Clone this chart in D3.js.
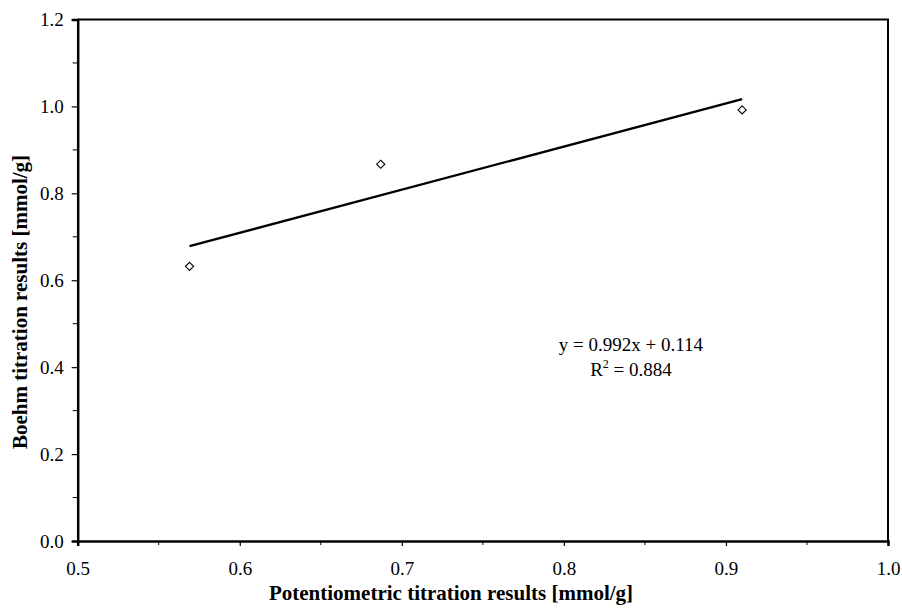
<!DOCTYPE html>
<html>
<head>
<meta charset="utf-8">
<style>
  body { margin: 0; background: #fff; }
  svg { display: block; font-family: "Liberation Serif", "Times New Roman", serif; }
  .axis path, .axis line { stroke: #000; }
  .title { font-size: 21px; font-weight: bold; }
  .eq { font-size: 19px; }
</style>
</head>
<body>
<svg width="902" height="609"></svg>
<script src="https://cdn.jsdelivr.net/npm/d3@7"></script>
<script>
// readings from the chart
var potentiometric = [0.569, 0.687, 0.910];
var boehm = [0.632, 0.867, 0.992];
var xTicks = [0.5, 0.6, 0.7, 0.8, 0.9, 1.0];
var yTicks = [0.0, 0.2, 0.4, 0.6, 0.8, 1.0, 1.2];
var eqLines = ["y = 0.992x + 0.114", "R", "2", " = 0.884"];

var svg = d3.select("svg"),
    margin = {top: 19.5, right: 14, bottom: 68, left: 77.7},
    width = +svg.attr("width") - margin.left - margin.right,
    height = +svg.attr("height") - margin.top - margin.bottom;

var x = d3.scaleLinear().domain([0.5, 1.0]).range([0, width]),
    y = d3.scaleLinear().domain([0, 1.2]).range([height, 0]);

var g = svg.append("g")
    .attr("transform", "translate(" + margin.left + "," + margin.top + ")");

// frame (top + right)
g.append("path")
    .attr("d", "M0,0H" + width + "V" + height)
    .attr("fill", "none")
    .attr("stroke", "#000")
    .attr("stroke-width", 2);

// minor ticks
var xMinor = d3.range(0.55, 1.0, 0.1);
var yMinor = d3.range(0.1, 1.2, 0.2);
g.selectAll(".xminor").data(xMinor).enter().append("line")
    .attr("x1", function(d) { return x(d); }).attr("x2", function(d) { return x(d); })
    .attr("y1", height).attr("y2", height + 4)
    .attr("stroke", "#000").attr("stroke-width", 1);
g.selectAll(".yminor").data(yMinor).enter().append("line")
    .attr("y1", function(d) { return y(d); }).attr("y2", function(d) { return y(d); })
    .attr("x1", 0).attr("x2", -5)
    .attr("stroke", "#000").attr("stroke-width", 1);

var xAxis = d3.axisBottom(x).tickValues(xTicks).tickFormat(d3.format(".1f")).tickSizeOuter(0).tickSize(5).tickPadding(16);
var yAxis = d3.axisLeft(y).tickValues(yTicks).tickFormat(d3.format(".1f")).tickSizeOuter(0).tickSize(6).tickPadding(8);

function styleAxis(a) {
  a.attr("font-family", "Liberation Serif, Times New Roman, serif").attr("font-size", 19);
  a.selectAll(".tick text")
    .style("font-family", "'Liberation Serif', 'Times New Roman', serif")
    .style("font-size", "19px")
    .attr("fill", "#000");
  a.select(".domain").attr("stroke-width", 2.5);
  a.selectAll(".tick line").attr("stroke-width", 1.2);
}

g.append("g").attr("class", "axis")
    .attr("transform", "translate(0," + height + ")")
    .call(xAxis)
    .call(styleAxis);

g.append("g").attr("class", "axis")
    .call(yAxis)
    .call(styleAxis);

// linear trendline from the points
var mx = d3.mean(potentiometric), my = d3.mean(boehm);
var sxy = d3.sum(potentiometric, function(v, i) { return (v - mx) * (boehm[i] - my); });
var sxx = d3.sum(potentiometric, function(v) { return (v - mx) * (v - mx); });
var slope = sxy / sxx, icpt = my - slope * mx;
var ext = d3.extent(potentiometric);

g.append("path")
    .datum(ext)
    .attr("fill", "none")
    .attr("stroke", "#000")
    .attr("stroke-width", 2.4)
    .attr("d", d3.line().x(function(d) { return x(d); }).y(function(d) { return y(slope * d + icpt); }));

// diamond markers
var diamond = d3.symbol().type(d3.symbolDiamond2).size(42);
g.selectAll(".pt").data(potentiometric).enter().append("path")
    .attr("transform", function(d, i) { return "translate(" + x(d) + "," + y(boehm[i]) + ")"; })
    .attr("d", diamond)
    .attr("fill", "#fff")
    .attr("stroke", "#000")
    .attr("stroke-width", 1.1);

// equation
var eqX = 631 - margin.left;
g.append("text").attr("class", "eq")
    .attr("x", eqX).attr("y", 351 - margin.top).attr("text-anchor", "middle")
    .text(eqLines[0]);
var r2 = g.append("text").attr("class", "eq")
    .attr("x", eqX).attr("y", 376 - margin.top).attr("text-anchor", "middle");
r2.append("tspan").text(eqLines[1]);
r2.append("tspan").attr("dy", -8).attr("font-size", 12).text(eqLines[2]);
r2.append("tspan").attr("dy", 8).text(eqLines[3]);

// axis titles
svg.append("text").attr("class", "title")
    .attr("x", 451).attr("y", 600)
    .attr("text-anchor", "middle")
    .text("Potentiometric titration results [mmol/g]");

svg.append("text").attr("class", "title")
    .attr("transform", "translate(27,302) rotate(-90)")
    .attr("text-anchor", "middle")
    .text("Boehm titration results [mmol/g]");
</script>
</body>
</html>
